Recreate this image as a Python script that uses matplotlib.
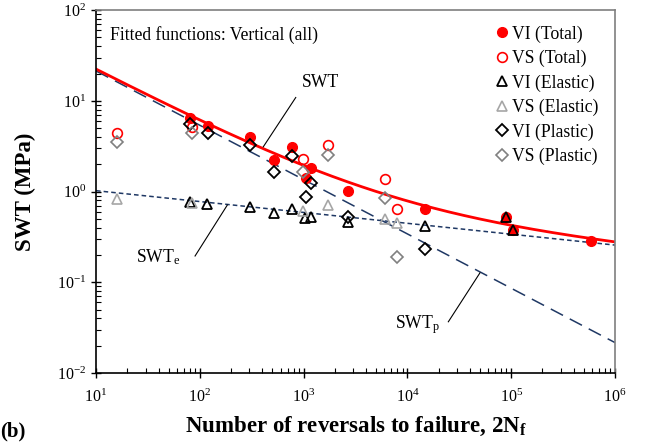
import numpy as np
import matplotlib
matplotlib.use('Agg')
import matplotlib.pyplot as plt

plt.rcParams['font.family'] = ['Liberation Serif', 'DejaVu Serif']
plt.rcParams['mathtext.fontset'] = 'custom'
plt.rcParams['mathtext.rm'] = 'Liberation Serif'
plt.rcParams['mathtext.it'] = 'Liberation Serif:italic'
plt.rcParams['mathtext.bf'] = 'Liberation Serif:bold'

# data
vi_x = [80.5, 121, 305, 522, 767, 1047, 1178, 2700, 14800, 88500, 105000, 583000]
vi_total = [6.4, 5.3, 4.0, 2.22, 3.12, 1.40, 1.80, 1.01, 0.65, 0.53, 0.377, 0.287]
vi_el_x = [80.5, 118, 305, 519, 767, 1030, 1178, 2700, 14800, 88500, 105000]
vi_elastic = [0.77, 0.73, 0.68, 0.575, 0.64, 0.506, 0.53, 0.465, 0.417, 0.53, 0.377]
vi_pl_x = [80.5, 121, 305, 522, 767, 1047, 1178, 2700, 14800]
vi_plastic = [5.5, 4.4, 3.25, 1.63, 2.46, 0.88, 1.25, 0.53, 0.23]

vs_x = [15.8, 85, 993, 1730, 6080, 8000]
vs_total = [4.4, 5.2, 2.26, 3.25, 1.37, 0.64]
vs_elastic = [0.83, 0.74, 0.61, 0.71, 0.50, 0.447]
vs_plastic = [3.5, 4.4, 1.63, 2.52, 0.86, 0.19]

# fitted power laws  SWT = A * (2Nf)^b
A_e, b_e = 1.35, -0.12
A_p, b_p = 85.0, -0.599

navy = '#1F3864'
fs = 12.7

fig = plt.figure(figsize=(6.59, 4.43), dpi=100)
ax = fig.add_axes([0.1457, 0.158, 0.7875, 0.819])

n = np.logspace(1, 6, 300)
swt_e = A_e * n ** b_e
swt_p = A_p * n ** b_p
ax.plot(n, swt_p, color=navy, lw=1.1, dashes=(9, 5))
ax.plot(n, swt_e, color=navy, lw=1.1, dashes=(3, 2))
ax.plot(n, swt_e + swt_p, color='red', lw=2)

ms = 7
ax.plot(vi_x, vi_total, 'o', color='red', ms=ms, label='VI (Total)')
ax.plot(vs_x, vs_total, 'o', mfc='none', mec='red', mew=1.2, ms=ms, label='VS (Total)')
ax.plot(vi_el_x, vi_elastic, '^', mfc='none', mec='black', mew=1.3, ms=ms, label='VI (Elastic)')
ax.plot(vs_x, vs_elastic, '^', mfc='none', mec='#A6A6A6', mew=1.2, ms=ms, label='VS (Elastic)')
ax.plot(vi_pl_x, vi_plastic, 'D', mfc='none', mec='black', mew=1.3, ms=6, label='VI (Plastic)')
ax.plot(vs_x, vs_plastic, 'D', mfc='none', mec='#808080', mew=1.2, ms=6, label='VS (Plastic)')

ax.set_xscale('log')
ax.set_yscale('log')
ax.set_xlim(10, 1e6)
ax.set_ylim(1e-2, 1e2)

ax.tick_params(which='major', direction='inout', length=7, width=1, labelsize=11.5)
ax.tick_params(which='minor', direction='in', length=3.5, width=0.8)
ax.tick_params(axis='x', pad=8)
for s in ['left', 'bottom']:
    ax.spines[s].set_linewidth(1.2)
for s in ['top', 'right']:
    ax.spines[s].set_color('#7F7F7F')
    ax.spines[s].set_linewidth(1.2)

ax.set_xlabel('Number of reversals to failure, 2N$_\\mathbf{f}$', fontsize=16.5,
              fontweight='bold')
ax.set_ylabel('SWT (MPa)', fontsize=16.5, fontweight='bold')
ax.xaxis.set_label_coords(0.5, -0.115)
ax.yaxis.set_label_coords(-0.116, 0.5)

ax.text(0.027, 0.955, 'Fitted functions: Vertical (all)', transform=ax.transAxes,
        fontsize=fs, va='top')

# curve labels with leader lines
ax.plot([840, 409], [10.9, 3.12], color='black', lw=0.8)
ax.text(1440, 16.1, 'SWT', fontsize=fs, ha='center', va='center')
ax.plot([90, 184], [0.195, 0.71], color='black', lw=0.8)
ax.text(39.5, 0.19, 'SWT$_\\mathrm{e}$', fontsize=fs, ha='center', va='center')
ax.plot([24800, 50000], [0.0367, 0.127], color='black', lw=0.8)
ax.text(12600, 0.034, 'SWT$_\\mathrm{p}$', fontsize=fs, ha='center', va='center')

ax.legend(loc='upper left', bbox_to_anchor=(0.751, 0.978), frameon=False, fontsize=fs,
          handletextpad=0.1, labelspacing=0.41, handlelength=1.0, borderaxespad=0,
          borderpad=0.4)

fig.text(0.0, 0.015, '(b)', fontsize=15, fontweight='bold')

fig.savefig('out.png', dpi=100)
